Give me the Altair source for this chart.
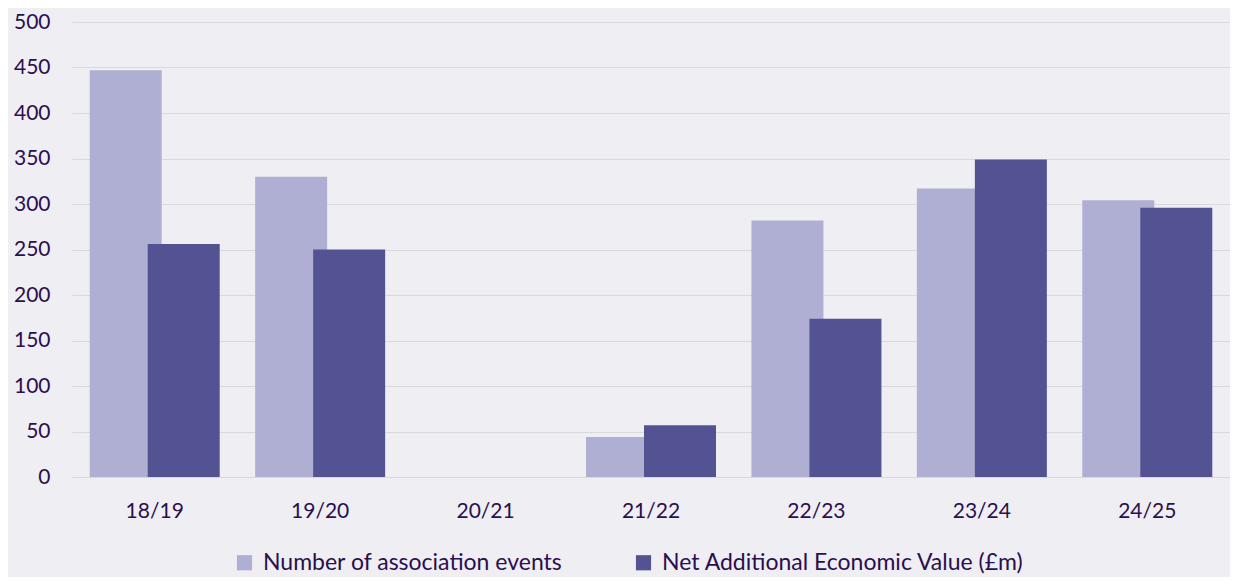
import altair as alt
import pandas as pd

categories = ["18/19", "19/20", "20/21", "21/22", "22/23", "23/24", "24/25"]
events = [447, 330, 0, 44, 282, 317, 304]
econ_value = [256, 250, 0, 57, 174, 349, 296]
series_names = ["Number of association events", "Net Additional Economic Value (£m)"]
series_colors = ["#AFAFD4", "#535293"]
y_ticks = [0, 50, 100, 150, 200, 250, 300, 350, 400, 450, 500]

rows = []
for c, e, v in zip(categories, events, econ_value):
    rows.append({"year": c, "series": series_names[0], "value": e})
    rows.append({"year": c, "series": series_names[1], "value": v})
df = pd.DataFrame(rows)

FONT = "Lato"
TXT = "#2B0F4E"

base = alt.Chart(df).encode(
    x=alt.X("year:N", sort=categories, title=None,
            scale=alt.Scale(paddingInner=0, paddingOuter=0),
            axis=alt.Axis(labelAngle=0, domain=False, ticks=False, grid=False,
                          labelPadding=23, labelFontSize=21, labelColor=TXT, labelFont=FONT)),
    y=alt.Y("value:Q", title=None, scale=alt.Scale(domain=[0, 500], nice=False),
            axis=alt.Axis(values=y_ticks, domain=False, ticks=False, gridColor="#D9D8DF",
                          gridWidth=1.2, labelPadding=22, labelFontSize=21, labelColor=TXT,
                          labelFont=FONT)),
    color=alt.Color("series:N", scale=alt.Scale(domain=series_names, range=series_colors),
                    legend=alt.Legend(title=None, orient="none", legendX=161, legendY=529,
                                      direction="horizontal", symbolType="square",
                                      symbolSize=230, symbolStrokeWidth=0, labelFontSize=23,
                                      labelColor=TXT, labelFont=FONT, columnPadding=69,
                                      labelOffset=7, padding=0, labelLimit=0)),
)

light = base.transform_filter(alt.datum.series == series_names[0]).mark_bar(width=72, xOffset=-29)
dark = base.transform_filter(alt.datum.series == series_names[1]).mark_bar(width=72, xOffset=29)

chart = alt.layer(light, dark).properties(
    width=1158, height=455,
    autosize=alt.AutoSizeParams(type="none"),
    padding={"left": 64, "top": 14, "right": 0, "bottom": 100},
).configure(background="#EFEEF3").configure_view(stroke=None)

chart.save("out.html", embed_options={"renderer": "svg", "actions": False})
